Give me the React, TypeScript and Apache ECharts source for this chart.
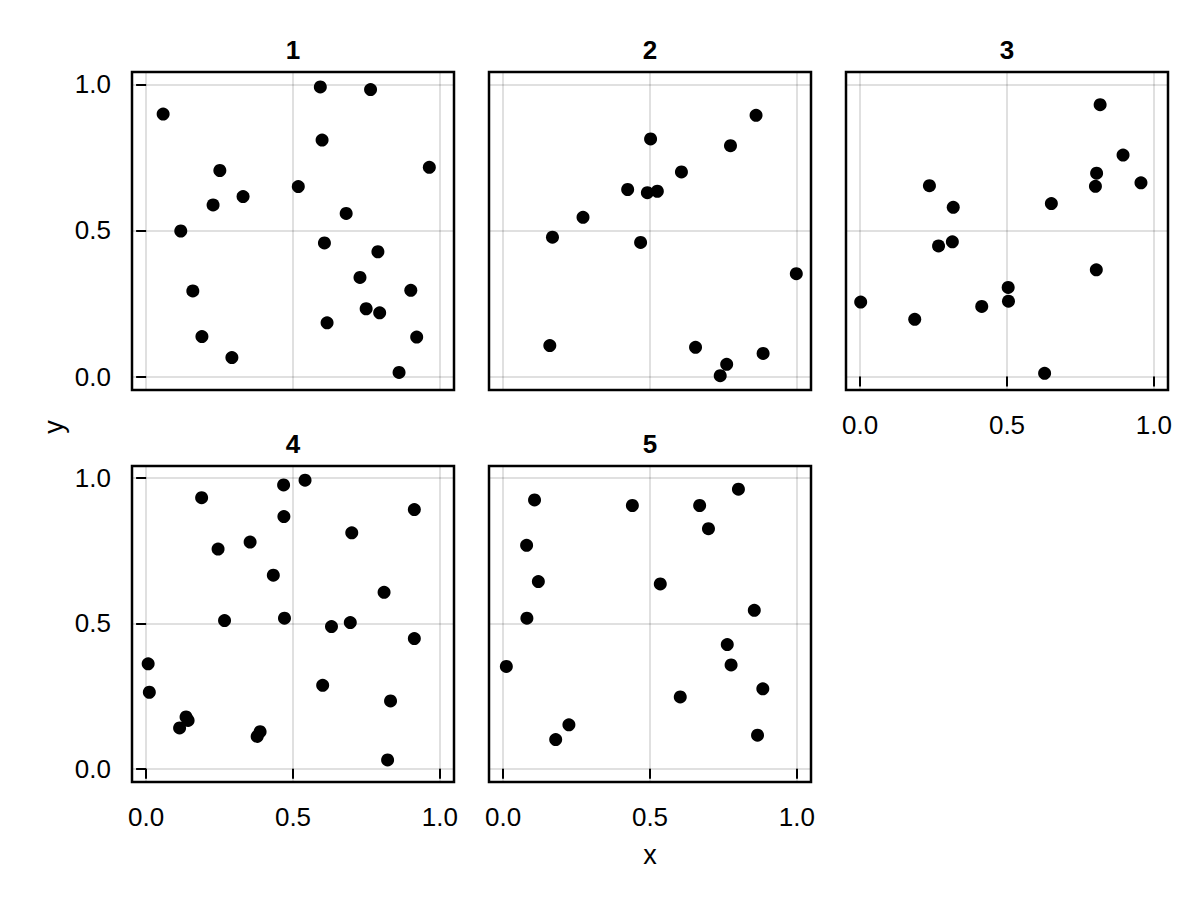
import React, { useEffect, useRef } from 'react';
import * as echarts from 'echarts';

const panelTitles = ['1', '2', '3', '4', '5'];
const tickValues = [0, 0.5, 1.0];
const xAxisName = 'x';
const yAxisName = 'y';

const panel1Points: [number, number][] = [
  [0.058, 0.898], [0.593, 0.991], [0.764, 0.982], [0.599, 0.809], [0.964, 0.716],
  [0.251, 0.705], [0.518, 0.650], [0.330, 0.616], [0.228, 0.587], [0.681, 0.558],
  [0.118, 0.498], [0.607, 0.457], [0.789, 0.427], [0.728, 0.339], [0.159, 0.293],
  [0.901, 0.295], [0.749, 0.232], [0.795, 0.218], [0.616, 0.184], [0.190, 0.137],
  [0.921, 0.135], [0.292, 0.065], [0.861, 0.014],
];

const panel2Points: [number, number][] = [
  [0.861, 0.894], [0.502, 0.813], [0.774, 0.790], [0.607, 0.700], [0.424, 0.640],
  [0.491, 0.629], [0.525, 0.634], [0.272, 0.545], [0.168, 0.477], [0.468, 0.459],
  [0.998, 0.352], [0.159, 0.106], [0.655, 0.100], [0.885, 0.079], [0.761, 0.042],
  [0.739, 0.003],
];

const panel3Points: [number, number][] = [
  [0.817, 0.930], [0.895, 0.758], [0.805, 0.696], [0.801, 0.651], [0.956, 0.663],
  [0.236, 0.653], [0.651, 0.592], [0.317, 0.579], [0.314, 0.461], [0.267, 0.447],
  [0.804, 0.365], [0.504, 0.305], [0.505, 0.258], [0.002, 0.255], [0.414, 0.240],
  [0.186, 0.196], [0.628, 0.011],
];

const panel4Points: [number, number][] = [
  [0.541, 0.993], [0.468, 0.977], [0.189, 0.933], [0.913, 0.892], [0.469, 0.868],
  [0.700, 0.812], [0.354, 0.780], [0.245, 0.756], [0.433, 0.666], [0.810, 0.607],
  [0.267, 0.510], [0.471, 0.518], [0.695, 0.503], [0.631, 0.489], [0.913, 0.448],
  [0.007, 0.361], [0.011, 0.263], [0.601, 0.287], [0.832, 0.233], [0.136, 0.178],
  [0.143, 0.166], [0.114, 0.140], [0.388, 0.127], [0.378, 0.111], [0.822, 0.030],
];

const panel5Points: [number, number][] = [
  [0.801, 0.962], [0.107, 0.925], [0.440, 0.906], [0.669, 0.906], [0.699, 0.826],
  [0.080, 0.769], [0.120, 0.644], [0.535, 0.636], [0.855, 0.545], [0.081, 0.518],
  [0.763, 0.427], [0.776, 0.357], [0.011, 0.352], [0.884, 0.275], [0.603, 0.247],
  [0.224, 0.151], [0.179, 0.100], [0.866, 0.115],
];

const panelData = [panel1Points, panel2Points, panel3Points, panel4Points, panel5Points];

export default function App() {
  const ref = useRef<HTMLDivElement>(null);

  useEffect(() => {
    if (!ref.current) return;
    const chart = echarts.init(ref.current, null, { renderer: 'svg' });
    const font = '"Liberation Sans", Arial, Helvetica, sans-serif';

    const gridRects = [
      { left: 132, top: 72, width: 322, height: 318 },
      { left: 489, top: 72, width: 322, height: 318 },
      { left: 846, top: 72, width: 322, height: 318 },
      { left: 132, top: 466, width: 322, height: 316 },
      { left: 489, top: 466, width: 322, height: 316 },
    ];
    const showX = [false, false, true, true, true];
    const showY = [true, false, false, true, false];

    const fmt = (v: number) => v.toFixed(1);

    const option: any = {
      animation: false,
      backgroundColor: '#ffffff',
      grid: gridRects.map((g) => ({
        ...g,
        show: true,
        borderColor: '#000',
        borderWidth: 2.5,
        backgroundColor: 'transparent',
        containLabel: false,
      })),
      xAxis: gridRects.map((_, i) => ({
        type: 'value',
        gridIndex: i,
        min: -0.048,
        max: 1.048,
        axisLine: { show: false },
        axisTick: {
          show: showX[i],
          customValues: tickValues,
          length: 10,
          lineStyle: { color: '#000', width: 2 },
        },
        axisLabel: {
          show: showX[i],
          customValues: tickValues,
          formatter: fmt,
          fontSize: 26,
          color: '#000',
          fontFamily: font,
          margin: 22,
        },
        splitLine: { show: true, lineStyle: { color: 'rgba(0,0,0,0.12)', width: 2 } },
      })),
      yAxis: gridRects.map((_, i) => ({
        type: 'value',
        gridIndex: i,
        min: -0.046,
        max: 1.042,
        axisLine: { show: false },
        axisTick: {
          show: showY[i],
          customValues: tickValues,
          length: 10,
          lineStyle: { color: '#000', width: 2 },
        },
        axisLabel: {
          show: showY[i],
          customValues: tickValues,
          formatter: fmt,
          fontSize: 26,
          color: '#000',
          fontFamily: font,
          margin: 21,
        },
        splitLine: { show: true, lineStyle: { color: 'rgba(0,0,0,0.12)', width: 2 } },
      })),
      series: panelData.map((d, i) => ({
        type: 'scatter',
        xAxisIndex: i,
        yAxisIndex: i,
        data: d,
        symbol: 'circle',
        symbolSize: 13,
        itemStyle: { color: '#000', opacity: 1 },
        silent: true,
      })),
      graphic: [
        ...gridRects.map((g, i) => ({
          type: 'text',
          x: g.left + g.width / 2,
          y: g.top - 22,
          style: {
            text: panelTitles[i],
            fontSize: 26,
            fontWeight: 'bold',
            fontFamily: font,
            fill: '#000',
            align: 'center',
            verticalAlign: 'middle',
          },
        })),
        {
          type: 'text',
          x: 650,
          y: 855,
          style: {
            text: xAxisName,
            fontSize: 27,
            fontFamily: font,
            fill: '#000',
            align: 'center',
            verticalAlign: 'middle',
          },
        },
        {
          type: 'text',
          x: 54,
          y: 427,
          rotation: Math.PI / 2,
          style: {
            text: yAxisName,
            fontSize: 27,
            fontFamily: font,
            fill: '#000',
            align: 'center',
            verticalAlign: 'middle',
          },
        },
      ],
    };

    chart.setOption(option);
    return () => chart.dispose();
  }, []);

  return (
    <div
      ref={ref}
      style={{ position: 'fixed', left: 0, top: 0, width: 1200, height: 900, background: '#fff' }}
    />
  );
}
